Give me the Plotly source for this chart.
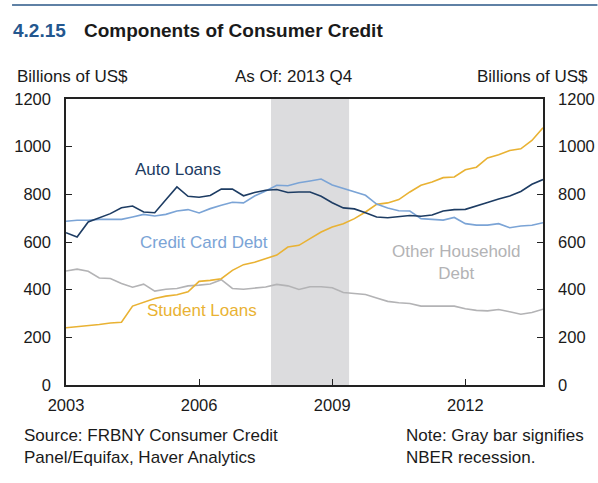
import plotly.graph_objects as go

# quarterly, 2003 Q1 .. 2013 Q4, billions of US$
quarters = [2003 + i * 0.25 for i in range(44)]

auto_loans = [639, 621, 684, 702, 719, 744, 751, 726, 723, 777,
              831, 792, 788, 795, 822, 822, 794, 808, 817, 820,
              808, 810, 810, 792, 765, 743, 739, 723, 705, 702,
              708, 711, 708, 713, 730, 736, 737, 750, 766, 780,
              793, 812, 842, 862]
credit_card = [687, 691, 691, 695, 695, 695, 705, 716, 709, 716,
               730, 736, 722, 740, 754, 767, 764, 793, 814, 838,
               836, 849, 856, 864, 839, 824, 812, 796, 759, 743,
               731, 730, 698, 694, 692, 703, 677, 671, 671, 677,
               660, 667, 670, 681]
student_loans = [240, 244, 248, 254, 260, 263, 331, 346, 363, 373,
                 379, 391, 435, 439, 446, 481, 505, 515, 529, 545,
                 579, 586, 614, 642, 663, 677, 698, 726, 758, 764,
                 778, 810, 838, 852, 870, 873, 903, 914, 953, 966,
                 984, 991, 1026, 1079]
other_household = [478, 486, 477, 449, 447, 426, 410, 423, 394, 402,
                   405, 416, 419, 424, 442, 405, 402, 405, 411, 422,
                   416, 401, 412, 412, 408, 388, 383, 380, 365, 351,
                   345, 342, 331, 331, 330, 331, 320, 313, 311, 317,
                   307, 297, 304, 318]

recession = [2007.62, 2009.38]
x_ticks = [2003, 2006, 2009, 2012]
y_ticks = [0, 200, 400, 600, 800, 1000, 1200]

NAVY = "#1d3c63"
LIGHT = "#7ba4d6"
GOLD = "#e9b233"
GRAY = "#b3b3b5"
TEXT = "#1a1a1a"
FONT = "Liberation Sans, Arial, sans-serif"

W, H = 598, 483
L, R, T, B = 66, 543.5, 99, 385


def px(x):
    return (x - L) / (R - L)


def py(y):
    return (B - y) / (B - T)


fig = go.Figure()

series = [
    ("Other Household Debt", other_household, GRAY),
    ("Student Loans", student_loans, GOLD),
    ("Credit Card Debt", credit_card, LIGHT),
    ("Auto Loans", auto_loans, NAVY),
]
for name, vals, color in series:
    fig.add_trace(go.Scatter(x=quarters, y=vals, name=name, mode="lines",
                             line=dict(color=color, width=1.6)))

fig.add_vrect(x0=recession[0], x1=recession[1], fillcolor="#dcdcde",
              line_width=0, layer="below")

# rule across the top
fig.add_shape(type="line", xref="paper", yref="paper",
              x0=px(12), x1=px(598), y0=py(5), y1=py(5),
              line=dict(color="#2a5787", width=1.5))

ann = []
ann.append(dict(text="<b>4.2.15</b>", x=px(11), y=py(30), xanchor="left",
                font=dict(size=19, color="#24578f")))
ann.append(dict(text="<b>Components of Consumer Credit</b>", x=px(82), y=py(30),
                xanchor="left", font=dict(size=19, color=TEXT)))
ann.append(dict(text="Billions of US$", x=px(15), y=py(76), xanchor="left",
                font=dict(size=17, color=TEXT)))
ann.append(dict(text="As Of: 2013 Q4", x=px(294), y=py(76), xanchor="center",
                font=dict(size=17, color=TEXT)))
ann.append(dict(text="Billions of US$", x=px(591), y=py(76), xanchor="right",
                font=dict(size=17, color=TEXT)))
ann.append(dict(text="Auto Loans", x=px(178), y=py(169), xanchor="center",
                font=dict(size=17, color=NAVY)))
ann.append(dict(text="Credit Card Debt", x=px(204), y=py(242), xanchor="center",
                font=dict(size=17, color=LIGHT)))
ann.append(dict(text="Student Loans", x=px(202), y=py(310), xanchor="center",
                font=dict(size=17, color=GOLD)))
ann.append(dict(text="Other Household<br>Debt", x=px(457), y=py(262), xanchor="center",
                font=dict(size=17, color=GRAY)))
ann.append(dict(text="Source: FRBNY Consumer Credit<br>Panel/Equifax, Haver Analytics",
                x=px(22), y=py(447), xanchor="left", align="left",
                font=dict(size=17, color=TEXT)))
ann.append(dict(text="Note: Gray bar signifies<br>NBER recession.",
                x=px(404), y=py(447), xanchor="left", align="left",
                font=dict(size=17, color=TEXT)))
for a in ann:
    a.update(xref="paper", yref="paper", yanchor="middle", showarrow=False)

axis_common = dict(showgrid=False, zeroline=False, showline=True, automargin=False,
                   linecolor="#222222", linewidth=1.5, ticks="inside",
                   ticklen=6, tickcolor="#222222", tickwidth=1.2,
                   tickfont=dict(family=FONT, size=16.5, color=TEXT))

fig.update_layout(
    width=W, height=H,
    margin=dict(l=L, r=W - R, t=T, b=H - B, autoexpand=False),
    paper_bgcolor="white", plot_bgcolor="white",
    showlegend=False,
    font=dict(family=FONT, color=TEXT),
    annotations=ann,
    xaxis=dict(axis_common, range=[2003, 2013.75], tickvals=x_ticks,
               mirror=True, ticklabelstandoff=4),
    yaxis=dict(axis_common, range=[0, 1200], tickvals=y_ticks,
               mirror=True, ticklabelstandoff=10),
    yaxis2=dict(axis_common, range=[0, 1200], tickvals=y_ticks,
                overlaying="y", side="right", matches="y",
                ticklabelstandoff=10),
)
fig.add_trace(go.Scatter(x=[quarters[0]], y=[auto_loans[0]], yaxis="y2",
                         mode="lines", hoverinfo="skip", showlegend=False,
                         line=dict(width=0)))

fig.write_html("out.html", config={"displayModeBar": False},
               post_script="document.body.style.margin='0';")
